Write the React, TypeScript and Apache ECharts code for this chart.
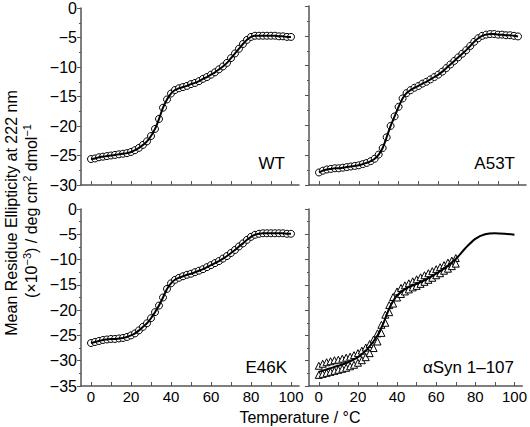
import React, { useEffect, useRef } from "react";
import * as echarts from "echarts";

const TEMPS = [0, 2, 4, 6, 8, 10, 12, 14, 16, 18, 20, 22, 24, 26, 28, 30, 32, 34, 36, 38, 40, 42, 44, 46, 48, 50, 52, 54, 56, 58, 60, 62, 64, 66, 68, 70, 72, 74, 76, 78, 80, 82, 84, 86, 88, 90, 92, 94, 96, 98, 100];

const WT = [-25.6, -25.5, -25.3, -25.2, -25.1, -25.0, -24.9, -24.8, -24.7, -24.6, -24.4, -24.1, -23.7, -23.2, -22.6, -21.7, -20.5, -18.8, -16.9, -15.5, -14.5, -13.9, -13.6, -13.4, -13.2, -12.9, -12.7, -12.4, -12.0, -11.7, -11.3, -10.9, -10.4, -9.9, -9.3, -8.5, -7.7, -6.9, -6.1, -5.4, -4.9, -4.7, -4.7, -4.7, -4.7, -4.7, -4.7, -4.8, -4.8, -4.9, -4.9];

const A53T = [-27.9, -27.6, -27.4, -27.3, -27.2, -27.2, -27.1, -27.0, -26.9, -26.8, -26.7, -26.5, -26.3, -26.0, -25.6, -24.9, -23.8, -22.0, -20.1, -18.5, -16.9, -15.5, -14.6, -14.1, -13.7, -13.4, -13.0, -12.7, -12.3, -11.9, -11.5, -11.0, -10.4, -9.8, -9.2, -8.6, -8.0, -7.4, -6.7, -6.0, -5.4, -5.0, -4.8, -4.7, -4.7, -4.8, -4.8, -4.9, -4.9, -5.0, -5.1];

const E46K = [-26.5, -26.3, -26.1, -25.9, -25.8, -25.7, -25.7, -25.6, -25.5, -25.3, -25.0, -24.6, -24.0, -23.3, -22.6, -21.6, -20.4, -19.1, -17.5, -15.8, -14.7, -14.0, -13.6, -13.3, -13.0, -12.8, -12.5, -12.2, -11.9, -11.5, -11.1, -10.7, -10.3, -9.8, -9.3, -8.7, -8.1, -7.4, -6.8, -6.1, -5.5, -5.1, -4.9, -4.8, -4.8, -4.8, -4.8, -4.8, -4.8, -4.9, -4.9];

const TRI_TEMPS = [0, 2, 4, 6, 8, 10, 12, 14, 16, 18, 20, 22, 24, 26, 28, 30, 32, 34, 36, 38, 40, 42, 44, 46, 48, 50, 52, 54, 56, 58, 60, 62, 64, 66, 68, 70];
const SYN_UPPER = [-31.0, -30.6, -30.3, -30.1, -29.9, -29.8, -29.6, -29.4, -29.2, -28.9, -28.5, -28.0, -27.4, -26.7, -25.8, -24.6, -22.9, -20.9, -19.0, -17.4, -16.3, -15.6, -15.1, -14.7, -14.3, -13.9, -13.5, -13.1, -12.7, -12.3, -11.9, -11.5, -11.1, -10.6, -10.2, -9.7];
const SYN_LOWER = [-32.8, -32.6, -32.4, -32.2, -32.0, -31.8, -31.6, -31.4, -31.1, -30.8, -30.4, -29.9, -29.3, -28.5, -27.5, -26.2, -24.5, -22.5, -20.4, -18.7, -17.5, -16.8, -16.3, -15.9, -15.5, -15.2, -14.8, -14.4, -14.0, -13.6, -13.1, -12.7, -12.2, -11.8, -11.3, -10.8];

const FIT_TEMPS = [0, 5, 10, 15, 20, 25, 30, 33, 35, 37, 40, 45, 50, 55, 60, 65, 70, 75, 80, 85, 90, 95, 100];
const SYN_FIT = [-32.2, -31.6, -31.0, -30.3, -29.3, -27.6, -25.0, -22.6, -20.6, -18.9, -17.1, -15.6, -14.8, -13.9, -12.8, -11.5, -9.9, -7.7, -5.9, -5.0, -4.8, -4.9, -5.1];

const X_TICKS = [0, 10, 20, 30, 40, 50, 60, 70, 80, 90, 100];
const X_LABELS = [0, 20, 40, 60, 80, 100];
const PANEL_NAMES = ["WT", "A53T", "E46K", "\u03b1Syn 1\u2013107"];

const FONT = "'Liberation Sans', Arial, Helvetica, sans-serif";
const AXIS_COLOR = "#555";

const zip = (xs: number[], ys: number[]) => ys.map((y, i) => [xs[i], y]);

export default function App() {
  const ref = useRef<HTMLDivElement>(null);
  useEffect(() => {
    if (!ref.current) return;
    const chart = echarts.init(ref.current, undefined, { renderer: "svg" });

    const grids = [
      { left: 81, top: 6, width: 218, height: 179 },
      { left: 309, top: 6, width: 217, height: 179 },
      { left: 81, top: 209, width: 218, height: 177 },
      { left: 309, top: 209, width: 217, height: 177 },
    ];

    const xAxes = grids.map((_, i) => ({
      type: "value",
      gridIndex: i,
      min: -5,
      max: 104,
      axisLine: { show: true, onZero: false, lineStyle: { color: AXIS_COLOR, width: 1.5 } },
      axisTick: { show: true, inside: true, length: 4, customValues: X_TICKS, lineStyle: { color: AXIS_COLOR, width: 1 } },
      axisLabel: {
        show: i >= 2,
        customValues: X_LABELS,
        fontSize: 15,
        fontFamily: FONT,
        color: "#000",
        margin: 3,
      },
      splitLine: { show: false },
    }));

    const yAxes = grids.map((_, i) => ({
      type: "value",
      gridIndex: i,
      min: i < 2 ? -30 : -35,
      max: 0,
      interval: 5,
      axisLine: { show: true, onZero: false, lineStyle: { color: AXIS_COLOR, width: 1.5 } },
      axisTick: { show: true, inside: false, length: 4, lineStyle: { color: AXIS_COLOR, width: 1 } },
      minorTick: { show: true, splitNumber: 2, length: 2, lineStyle: { color: AXIS_COLOR, width: 1 } },
      axisLabel: {
        show: i % 2 === 0,
        fontSize: 16,
        fontFamily: FONT,
        color: "#000",
        margin: 4,
        formatter: (v: number) => String(v).replace("-", "\u2212"),
      },
      splitLine: { show: false },
      minorSplitLine: { show: false },
    }));

    const circleSets = [WT, A53T, E46K];
    const series: any[] = [];
    circleSets.forEach((vals, i) => {
      series.push({
        type: "scatter",
        xAxisIndex: i,
        yAxisIndex: i,
        data: zip(TEMPS, vals),
        symbol: "circle",
        symbolSize: 7,
        itemStyle: { color: "#fff", borderColor: "#000", borderWidth: 1, opacity: 1 },
        z: 2,
      });
      series.push({
        type: "line",
        xAxisIndex: i,
        yAxisIndex: i,
        data: zip(TEMPS, vals),
        symbol: "none",
        smooth: 0.3,
        lineStyle: { color: "#000", width: 2 },
        z: 3,
      });
    });
    [SYN_UPPER, SYN_LOWER].forEach((vals) => {
      series.push({
        type: "scatter",
        xAxisIndex: 3,
        yAxisIndex: 3,
        data: zip(TRI_TEMPS, vals),
        symbol: "triangle",
        symbolSize: 7,
        itemStyle: { color: "#fff", borderColor: "#000", borderWidth: 1, opacity: 1 },
        z: 2,
      });
    });
    series.push({
      type: "line",
      xAxisIndex: 3,
      yAxisIndex: 3,
      data: zip(FIT_TEMPS, SYN_FIT),
      symbol: "none",
      smooth: 0.3,
      lineStyle: { color: "#000", width: 2 },
      z: 3,
    });

    const labelPos = [
      { x: 285, y: 163 },
      { x: 515, y: 163 },
      { x: 287, y: 367 },
      { x: 514, y: 367 },
    ];

    const graphic: any[] = PANEL_NAMES.map((name, i) => ({
      type: "text",
      x: labelPos[i].x,
      y: labelPos[i].y,
      style: {
        text: name,
        fontSize: 17,
        fontFamily: FONT,
        fill: "#000",
        align: "right",
        verticalAlign: "middle",
      },
    }));

    graphic.push({
      type: "text",
      x: 11,
      y: 213,
      rotation: Math.PI / 2,
      style: {
        text: "Mean Residue Ellipticity at 222 nm",
        fontSize: 16,
        fontFamily: FONT,
        fill: "#000",
        align: "center",
        verticalAlign: "middle",
      },
    });
    graphic.push({
      type: "text",
      x: 31,
      y: 211,
      rotation: Math.PI / 2,
      style: {
        text: "(\u00d710{sup|\u22123}) / deg cm{sup|2} dmol{sup|\u22121}",
        fontSize: 16,
        fontFamily: FONT,
        fill: "#000",
        align: "center",
        verticalAlign: "middle",
        rich: {
          sup: { fontSize: 11, fontFamily: FONT, fill: "#000", verticalAlign: "top", lineHeight: 19 },
        },
      },
    });
    graphic.push({
      type: "text",
      x: 300,
      y: 417,
      style: {
        text: "Temperature / \u00b0C",
        fontSize: 16,
        fontFamily: FONT,
        fill: "#000",
        align: "center",
        verticalAlign: "middle",
      },
    });

    chart.setOption({
      animation: false,
      backgroundColor: "#fff",
      grid: grids,
      xAxis: xAxes,
      yAxis: yAxes,
      series,
      graphic,
    });
    return () => chart.dispose();
  }, []);
  return (
    <div
      ref={ref}
      style={{ position: "fixed", left: 0, top: 0, width: 530, height: 427 }}
    />
  );
}
